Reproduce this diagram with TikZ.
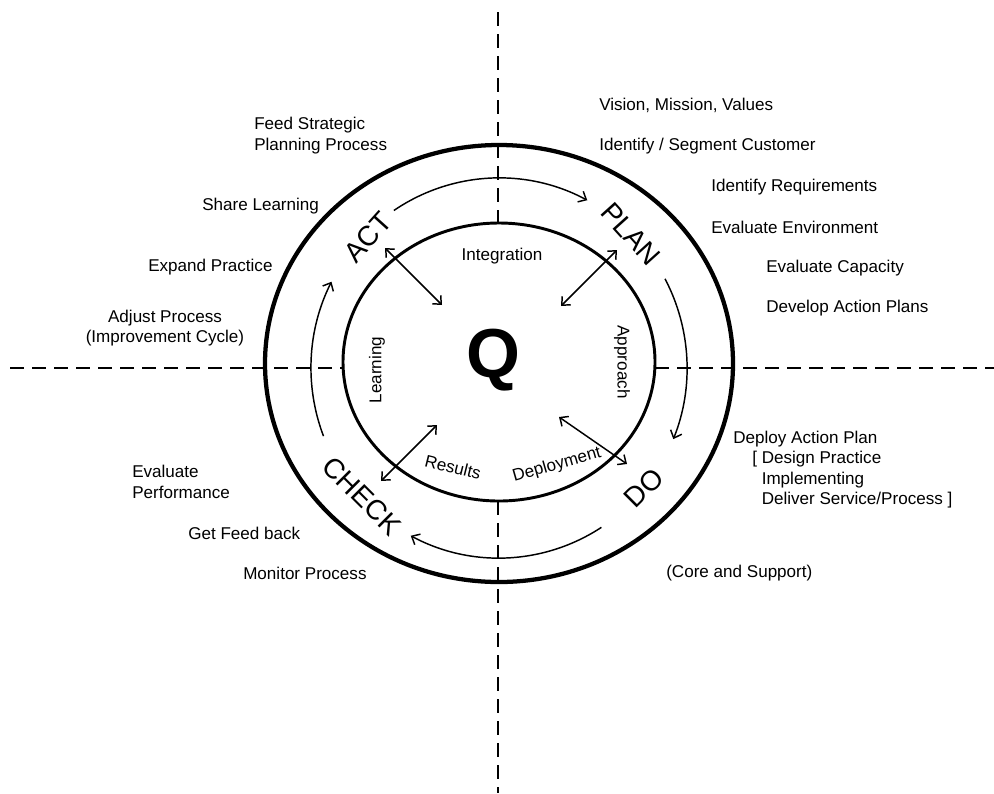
\documentclass[tikz,border=0pt]{standalone}
\usepackage{fontspec}
\setmainfont{Liberation Sans}
\usetikzlibrary{arrows.meta}
\begin{document}
\begin{tikzpicture}[x=0.75pt,y=-0.75pt,
  lbl/.style={font=\fontsize{12.8}{15.4}\selectfont, inner sep=0pt, anchor=west, align=left},
  clbl/.style={font=\fontsize{12.8}{15.4}\selectfont, inner sep=0pt, align=center},
  big/.style={font=\fontsize{21}{25}\selectfont, inner sep=0pt},
  inlbl/.style={font=\fontsize{12.8}{15.4}\selectfont, inner sep=0pt},
  cyc/.style={line width=1.1pt, -{Straight Barb[length=5pt,width=9pt]}},
  dbl/.style={line width=1.1pt, {Straight Barb[length=5pt,width=9pt]}-{Straight Barb[length=5pt,width=9pt]}},
  axisline/.style={line width=1.4pt, dash pattern=on 10.5pt off 6pt}
]
\useasboundingbox (0,0) rectangle (994,793);
% centres
\coordinate (co) at (499,363.5);
\coordinate (ci) at (499,362);
\coordinate (cm) at (499,368);
% axes
\coordinate (vt1) at (498,12);
\coordinate (vt2) at (498,223);
\coordinate (vb1) at (498,501);
\coordinate (vb2) at (498,793);
\coordinate (hl1) at (10,368);
\coordinate (hl2) at (343,368);
\coordinate (hr1) at (655,368);
\coordinate (hr2) at (994,368);
\draw[axisline] (vt1) -- (vt2);
\draw[axisline] (vb1) -- (vb2);
\draw[axisline] (hl1) -- (hl2);
\draw[axisline] (hr1) -- (hr2);
% ellipses
\draw[line width=3.2pt] (co) ellipse [x radius=234, y radius=218.5];
\draw[line width=2.2pt] (ci) ellipse [x radius=156, y radius=139];
% cycle arcs
\draw[cyc] (cm) ++(236:188 and 190) arc[start angle=236, end angle=298, x radius=188, y radius=190];
\draw[cyc] (cm) ++(-28:188 and 190) arc[start angle=-28, end angle=22, x radius=188, y radius=190];
\draw[cyc] (cm) ++(57:188 and 190) arc[start angle=57, end angle=118, x radius=188, y radius=190];
\draw[cyc] (cm) ++(159:188 and 190) arc[start angle=159, end angle=207, x radius=188, y radius=190];
% double arrows
\coordinate (a1) at (385,248); \coordinate (a2) at (442,305);
\coordinate (p1) at (617,250); \coordinate (p2) at (561,306);
\coordinate (d1) at (559,417); \coordinate (d2) at (627,464);
\coordinate (k1) at (437,425); \coordinate (k2) at (381,481);
\draw[dbl] (a1) -- (a2);
\draw[dbl] (p1) -- (p2);
\draw[dbl] (d1) -- (d2);
\draw[dbl] (k1) -- (k2);
% big labels
\node[big, rotate=48] (act) at (368,237) {ACT};
\node[big, rotate=-48] (plan) at (631,234) {PLAN};
\node[big, rotate=45] (do) at (644,488) {DO};
\node[big, rotate=-45] (check) at (362,496) {CHECK};
\node[inner sep=0pt, font=\fontsize{52}{62}\selectfont\bfseries] (q) at (493,360) {Q};
% inner labels
\node[inlbl] (integ) at (502,256) {Integration};
\node[inlbl, rotate=90] (learn) at (377,370) {Learning};
\node[inlbl, rotate=-90] (appr) at (622,362) {Approach};
\node[inlbl, rotate=-14] (res) at (453,467) {Results};
\node[inlbl, rotate=16] (depl) at (557,465) {Deployment};
% outer labels left
\node[lbl] (feed) at (254,135.5) {Feed Strategic\\Planning Process};
\node[lbl] (share) at (202,206) {Share Learning};
\node[lbl] (expand) at (148,267) {Expand Practice};
\node[clbl] (adjust) at (165,328) {Adjust Process\\(Improvement Cycle)};
\node[lbl] (evalp) at (132,482) {Evaluate\\Performance};
\node[lbl] (getfb) at (188,533) {Get Feed back};
\node[lbl] (monitor) at (243,573) {Monitor Process};
% outer labels right
\node[lbl] (vision) at (599,105) {Vision, Mission, Values};
\node[lbl] (ident) at (599,146) {Identify / Segment Customer};
\node[lbl] (ireq) at (711,187) {Identify Requirements};
\node[lbl] (eenv) at (711,227) {Evaluate Environment};
\node[lbl] (ecap) at (766,268) {Evaluate Capacity};
\node[lbl] (dev) at (766,308) {Develop Action Plans};
\node[lbl] (deploy) at (733,469.5) {Deploy Action Plan\\\hspace{14.25pt}[ Design Practice\\\hspace{14.25pt}\phantom{[ }Implementing\\\hspace{14.25pt}\phantom{[ }Deliver Service/Process ]};
\node[lbl] (core) at (666,573) {(Core and Support)};
\end{tikzpicture}
\end{document}
